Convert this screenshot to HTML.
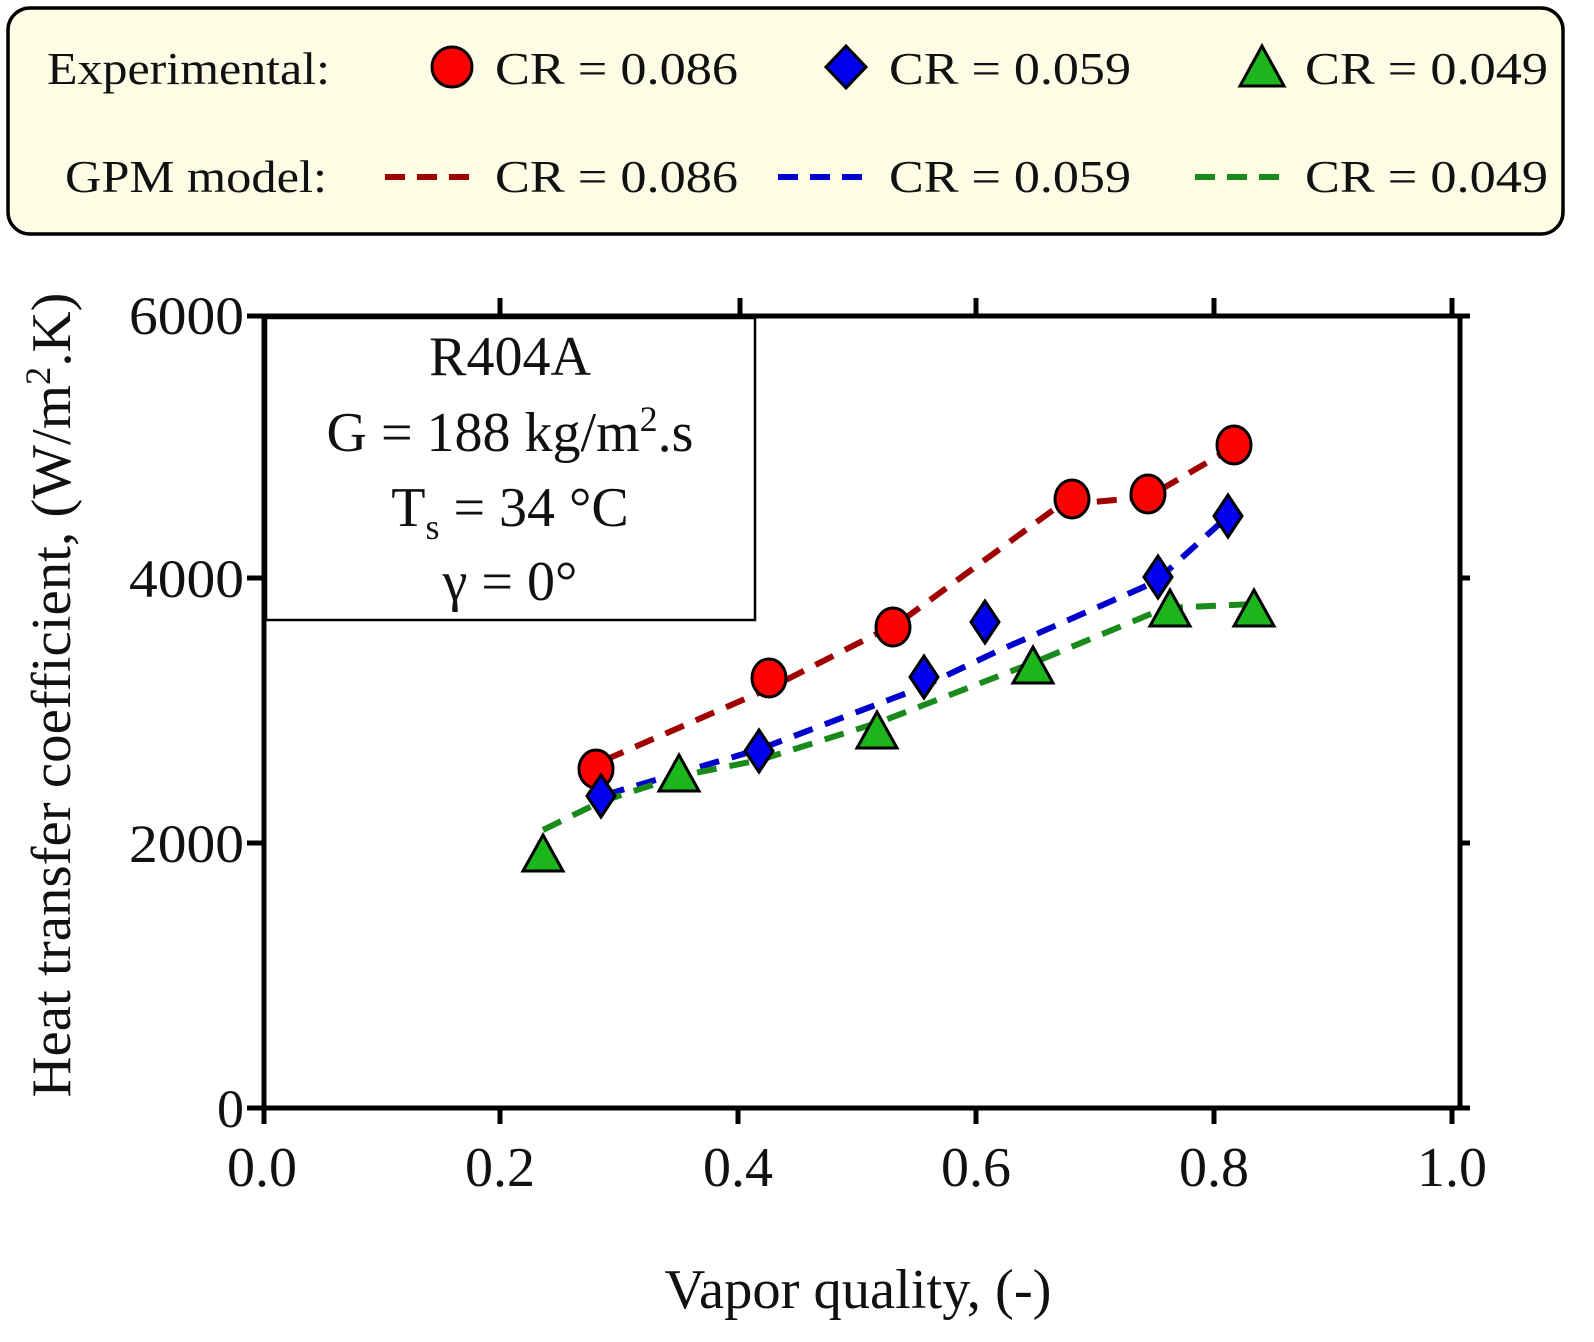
<!DOCTYPE html>
<html><head><meta charset="utf-8"><style>
html,body{margin:0;padding:0;background:#fff;}
svg{display:block;font-family:"Liberation Serif",serif;}
</style></head><body>
<svg width="1594" height="1342" viewBox="0 0 1594 1342" xmlns="http://www.w3.org/2000/svg">
<rect x="8" y="8" width="1555" height="226" rx="22" fill="#fdfce4" stroke="#000" stroke-width="3.5"/>
<g font-size="46" fill="#111">
<text x="47" y="84" textLength="283" lengthAdjust="spacingAndGlyphs">Experimental:</text>
<text x="65" y="192" textLength="262" lengthAdjust="spacingAndGlyphs">GPM model:</text>
<text x="495" y="84" textLength="243" lengthAdjust="spacingAndGlyphs">CR = 0.086</text>
<text x="889" y="84" textLength="242" lengthAdjust="spacingAndGlyphs">CR = 0.059</text>
<text x="1305" y="84" textLength="243" lengthAdjust="spacingAndGlyphs">CR = 0.049</text>
<text x="495" y="192" textLength="243" lengthAdjust="spacingAndGlyphs">CR = 0.086</text>
<text x="889" y="192" textLength="242" lengthAdjust="spacingAndGlyphs">CR = 0.059</text>
<text x="1305" y="192" textLength="243" lengthAdjust="spacingAndGlyphs">CR = 0.049</text>
</g>
<ellipse cx="452" cy="67" rx="20" ry="20" fill="#f00" stroke="#000" stroke-width="3"/>
<polygon points="846,46 866,67 846,88 826,67" fill="#0000ee" stroke="#000" stroke-width="3"/>
<polygon points="1262,46 1284,86 1240,86" fill="#1cb51c" stroke="#000" stroke-width="3"/>
<line x1="385" y1="177" x2="472" y2="177" stroke="#a00000" stroke-width="6" stroke-dasharray="20,12"/>
<line x1="778" y1="177" x2="866" y2="177" stroke="#0000cc" stroke-width="6" stroke-dasharray="20,12"/>
<line x1="1195" y1="177" x2="1283" y2="177" stroke="#1a8a1a" stroke-width="6" stroke-dasharray="20,12"/>

<g stroke="#000" stroke-width="5" fill="none">
<rect x="264" y="316" width="1196" height="792"/>
<line x1="247" y1="316" x2="264" y2="316"/>
<line x1="247" y1="578" x2="264" y2="578"/>
<line x1="247" y1="843" x2="264" y2="843"/>
<line x1="247" y1="1108" x2="264" y2="1108"/>
<line x1="1460" y1="578" x2="1470" y2="578"/>
<line x1="1460" y1="843" x2="1470" y2="843"/>
<line x1="1460" y1="316" x2="1470" y2="316"/>
<line x1="1460" y1="1108" x2="1470" y2="1108"/>
<line x1="264" y1="1108" x2="264" y2="1124"/>
<line x1="500" y1="1108" x2="500" y2="1124"/>
<line x1="738" y1="1108" x2="738" y2="1124"/>
<line x1="976" y1="1108" x2="976" y2="1124"/>
<line x1="1214" y1="1108" x2="1214" y2="1124"/>
<line x1="1452" y1="1108" x2="1452" y2="1124"/>
<line x1="500" y1="298" x2="500" y2="316"/>
<line x1="740" y1="298" x2="740" y2="316"/>
<line x1="976" y1="298" x2="976" y2="316"/>
<line x1="1214" y1="298" x2="1214" y2="316"/>
<line x1="1452" y1="298" x2="1452" y2="316"/>
</g>
<g font-size="54" fill="#111" text-anchor="end">
<text x="244" y="334" textLength="115" lengthAdjust="spacingAndGlyphs">6000</text>
<text x="244" y="597" textLength="115" lengthAdjust="spacingAndGlyphs">4000</text>
<text x="244" y="862" textLength="115" lengthAdjust="spacingAndGlyphs">2000</text>
<text x="244" y="1127">0</text>
</g>
<g font-size="56" fill="#111" text-anchor="middle">
<text x="262" y="1186">0.0</text>
<text x="500" y="1186">0.2</text>
<text x="738" y="1186">0.4</text>
<text x="976" y="1186">0.6</text>
<text x="1214" y="1186">0.8</text>
<text x="1452" y="1186">1.0</text>
<text x="858" y="1308" textLength="387" lengthAdjust="spacingAndGlyphs">Vapor quality, (-)</text>
</g>
<text transform="translate(70,695) rotate(-90)" text-anchor="middle" font-size="56" fill="#111" textLength="805" lengthAdjust="spacingAndGlyphs">Heat transfer coefficient, (W/m<tspan dy="-20" font-size="36">2</tspan><tspan dy="20">.K)</tspan></text>

<rect x="266" y="318" width="489" height="302" fill="#fff" stroke="#000" stroke-width="2.5"/>
<g font-size="56" fill="#111" text-anchor="middle">
<text x="510" y="375">R404A</text>
<text x="510" y="451">G = 188 kg/m<tspan dy="-20" font-size="36">2</tspan><tspan dy="20">.s</tspan></text>
<text x="510" y="526">T<tspan dy="13" font-size="36">s</tspan><tspan dy="-13"> = 34 °C</tspan></text>
<text x="510" y="600">γ = 0°</text>
</g>

<g fill="none" stroke-width="6" stroke-dasharray="20,13">
<polyline stroke="#a00000" points="605,760 770,688 900,622 1060,505 1148,497 1232,448"/>
<polyline stroke="#0000cc" points="605,795 760,749 920,688 1000,650 1155,582 1226,518"/>
<polyline stroke="#1a8a1a" points="543,830 600,802 680,776 760,760 880,722 1040,660 1165,608 1254,604"/>
</g>

<g fill="#f00" stroke="#000" stroke-width="3">
<ellipse cx="596" cy="769" rx="17" ry="19"/>
<ellipse cx="769" cy="678" rx="17" ry="19"/>
<ellipse cx="893" cy="627" rx="17" ry="19"/>
<ellipse cx="1072" cy="499" rx="17" ry="19"/>
<ellipse cx="1148" cy="494" rx="17" ry="19"/>
<ellipse cx="1234" cy="445" rx="17" ry="19"/>
</g>
<g fill="#0000ee" stroke="#000" stroke-width="3">
<polygon points="601,775 615,796 601,817 587,796"/>
<polygon points="759,730 773,751 759,772 745,751"/>
<polygon points="924,656 938,677 924,698 910,677"/>
<polygon points="985,601 999,622 985,643 971,622"/>
<polygon points="1158,556 1172,577 1158,598 1144,577"/>
<polygon points="1228,495 1242,516 1228,537 1214,516"/>
</g>
<g fill="#1cb51c" stroke="#000" stroke-width="3">
<polygon points="543,835 563,871 523,871"/>
<polygon points="679,755 699,791 659,791"/>
<polygon points="877,712 897,748 857,748"/>
<polygon points="1033,647 1053,683 1013,683"/>
<polygon points="1170,590 1190,626 1150,626"/>
<polygon points="1254,590 1274,626 1234,626"/>
</g>
</svg>
</body></html>
